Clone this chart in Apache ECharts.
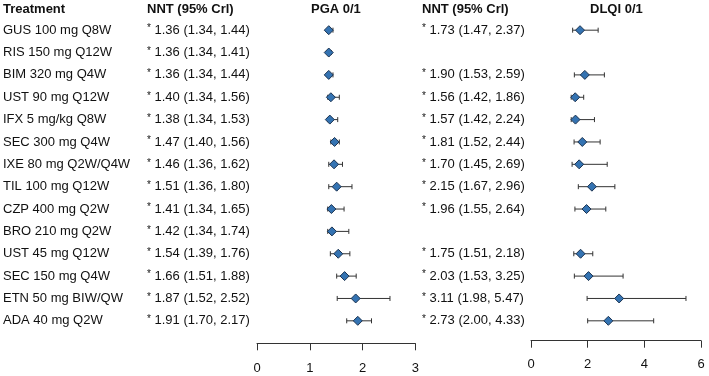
<!DOCTYPE html>
<html>
<head>
<meta charset="utf-8">
<script src="https://cdn.jsdelivr.net/npm/echarts@6/dist/echarts.min.js"></script>
<style>
  html, body { margin: 0; padding: 0; background: #fff; }
  #chart { width: 709px; height: 376px; }
</style>
</head>
<body>
<div id="chart"></div>
<script>
const treatments = [
  "GUS 100 mg Q8W", "RIS 150 mg Q12W", "BIM 320 mg Q4W", "UST 90 mg Q12W",
  "IFX 5 mg/kg Q8W", "SEC 300 mg Q4W", "IXE 80 mg Q2W/Q4W", "TIL 100 mg Q12W",
  "CZP 400 mg Q2W", "BRO 210 mg Q2W", "UST 45 mg Q12W", "SEC 150 mg Q4W",
  "ETN 50 mg BIW/QW", "ADA 40 mg Q2W"
];
const pgaMid = [1.36, 1.36, 1.36, 1.40, 1.38, 1.47, 1.46, 1.51, 1.41, 1.42, 1.54, 1.66, 1.87, 1.91];
const pgaLo  = [1.34, 1.34, 1.34, 1.34, 1.34, 1.40, 1.36, 1.36, 1.34, 1.34, 1.39, 1.51, 1.52, 1.70];
const pgaHi  = [1.44, 1.41, 1.44, 1.56, 1.53, 1.56, 1.62, 1.80, 1.65, 1.74, 1.76, 1.88, 2.52, 2.17];
const dlqiMid = [1.73, null, 1.90, 1.56, 1.57, 1.81, 1.70, 2.15, 1.96, null, 1.75, 2.03, 3.11, 2.73];
const dlqiLo  = [1.47, null, 1.53, 1.42, 1.42, 1.52, 1.45, 1.67, 1.55, null, 1.51, 1.53, 1.98, 2.00];
const dlqiHi  = [2.37, null, 2.59, 1.86, 2.24, 2.44, 2.69, 2.96, 2.64, null, 2.18, 3.25, 5.47, 4.33];
const pgaTicks = [0, 1, 2, 3];
const dlqiTicks = [0, 2, 4, 6];

const FONT = "'Liberation Sans', Arial, sans-serif";
const nntText = (m, lo, hi, i) =>
  m[i] == null ? "" : "{s|*} " + m[i].toFixed(2) + " (" + lo[i].toFixed(2) + ", " + hi[i].toFixed(2) + ")";

const chart = echarts.init(document.getElementById("chart"));

// error bar with end caps
const errorBar = (params, api) => {
  const y = api.value(0);
  const a = api.coord([api.value(1), y]);
  const b = api.coord([api.value(2), y]);
  const cap = 2.5;
  const st = { stroke: "#333", lineWidth: 1 };
  return {
    type: "group",
    children: [
      { type: "line", shape: { x1: a[0], y1: a[1], x2: b[0], y2: b[1] }, style: st },
      { type: "line", shape: { x1: a[0], y1: a[1] - cap, x2: a[0], y2: a[1] + cap }, style: st },
      { type: "line", shape: { x1: b[0], y1: b[1] - cap, x2: b[0], y2: b[1] + cap }, style: st }
    ]
  };
};

const gridTop = 19, gridH = 313;
const catAxis = (gridIndex, margin, labels) => ({
  type: "category",
  gridIndex,
  position: "left",
  inverse: true,
  data: treatments,
  axisLine: { show: false },
  axisTick: { show: false },
  splitLine: { show: false },
  axisLabel: {
    margin,
    align: "left",
    fontFamily: FONT,
    fontSize: 13,
    color: "#111",
    formatter: (v, i) => labels[i],
    rich: {
      s: { fontFamily: FONT, fontSize: 10, color: "#111", padding: [0, 0, 3, 0] }
    }
  }
});
const valAxis = (gridIndex, max, interval, offset, margin) => ({
  type: "value",
  gridIndex,
  min: 0,
  max,
  interval,
  offset,
  position: "bottom",
  splitLine: { show: false },
  axisLine: { show: true, lineStyle: { color: "#333", width: 1 } },
  axisTick: { show: true, length: 7, lineStyle: { color: "#333" } },
  axisLabel: { margin, fontFamily: FONT, fontSize: 13, color: "#111" }
});

const header = (text, left) => ({
  text,
  left,
  top: 3,
  padding: 0,
  textStyle: { fontFamily: FONT, fontSize: 13, fontWeight: "bold", color: "#111" }
});

const pgaNnt = treatments.map((t, i) => nntText(pgaMid, pgaLo, pgaHi, i));
const dlqiNnt = treatments.map((t, i) => nntText(dlqiMid, dlqiLo, dlqiHi, i));

const idx = treatments.map((t, i) => i);
const diamond = {
  type: "scatter",
  symbol: "diamond",
  symbolSize: [9, 9],
  itemStyle: { color: "#3473b2", borderColor: "#1c3350", borderWidth: 1, opacity: 1 },
  z: 3
};

chart.setOption({
  animation: false,
  title: [
    header("Treatment", 3),
    header("NNT (95% Crl)", 147),
    header("PGA 0/1", 311),
    header("NNT (95% Crl)", 422),
    header("DLQI 0/1", 590)
  ],
  grid: [
    { left: 256.7, width: 158.6, top: gridTop, height: gridH },
    { left: 531, width: 170, top: gridTop, height: gridH }
  ],
  xAxis: [
    valAxis(0, pgaTicks[pgaTicks.length - 1], 1, 11.3, 19),
    valAxis(1, dlqiTicks[dlqiTicks.length - 1], 2, 8.7, 17)
  ],
  yAxis: [
    catAxis(0, 254, treatments),
    catAxis(0, 110, pgaNnt),
    catAxis(1, 109, dlqiNnt)
  ],
  series: [
    {
      type: "custom",
      xAxisIndex: 0,
      yAxisIndex: 0,
      renderItem: errorBar,
      encode: { x: [1, 2], y: 0 },
      data: idx.map(i => [i, pgaLo[i], pgaHi[i]])
    },
    Object.assign({}, diamond, {
      xAxisIndex: 0,
      yAxisIndex: 0,
      data: idx.map(i => [pgaMid[i], i])
    }),
    {
      type: "custom",
      xAxisIndex: 1,
      yAxisIndex: 2,
      renderItem: errorBar,
      encode: { x: [1, 2], y: 0 },
      data: idx.filter(i => dlqiMid[i] != null).map(i => [i, dlqiLo[i], dlqiHi[i]])
    },
    Object.assign({}, diamond, {
      xAxisIndex: 1,
      yAxisIndex: 2,
      data: idx.filter(i => dlqiMid[i] != null).map(i => [dlqiMid[i], i])
    })
  ]
});
</script>
</body>
</html>
